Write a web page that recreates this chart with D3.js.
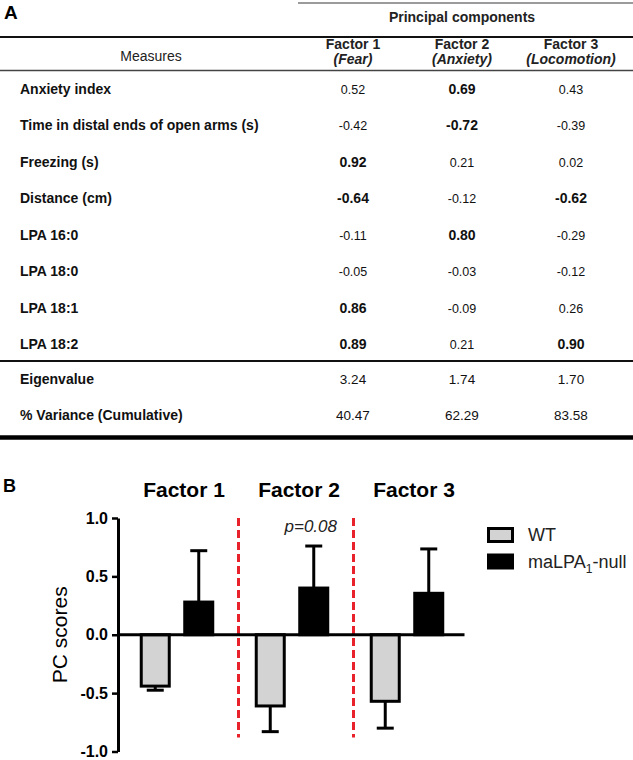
<!DOCTYPE html>
<html><head><meta charset="utf-8">
<script src="https://cdn.jsdelivr.net/npm/d3@7"></script>
<style>body{margin:0;background:#fff}svg{display:block;font-family:"Liberation Sans",Arial,sans-serif}</style>
</head><body><svg id="c" width="633" height="760"></svg>
<script>
// ---------- Panel A data ----------
const measures = ["Anxiety index","Time in distal ends of open arms (s)","Freezing (s)","Distance (cm)","LPA 16:0","LPA 18:0","LPA 18:1","LPA 18:2"];
const componentNames = ["Factor 1","Factor 2","Factor 3"];
const componentLabels = ["(Fear)","(Anxiety)","(Locomotion)"];
const loadingsF1 = [0.52,-0.42,0.92,-0.64,-0.11,-0.05,0.86,0.89];
const loadingsF2 = [0.69,-0.72,0.21,-0.12,0.80,-0.03,-0.09,0.21];
const loadingsF3 = [0.43,-0.39,0.02,-0.62,-0.29,-0.12,0.26,0.90];
const eigenvalues = ["3.24","1.74","1.70"];
const cumVariance = ["40.47","62.29","83.58"];
const summaryRows = ["Eigenvalue","% Variance (Cumulative)"];

// ---------- Panel B data ----------
const factors = ["Factor 1","Factor 2","Factor 3"];
const groups = ["WT","maLPA1-null"];
const wtMean = [-0.44,-0.61,-0.57];
const wtSem = [0.035,0.22,0.23];
const koMean = [0.28,0.40,0.355];
const koSem = [0.44,0.36,0.38];
const yTicks = [-1,-0.5,0,0.5,1];
const pLabel = "p=0.08";

const svg = d3.select("#c");
const F = "bold";

// ===== Panel A =====
svg.append("text").attr("x",4).attr("y",19).attr("font-size",19).attr("font-weight",F).text("A");
function hline(x1,x2,y,w,c){svg.append("line").attr("x1",x1).attr("x2",x2).attr("y1",y).attr("y2",y).attr("stroke",c).attr("stroke-width",w);}
hline(298,633,3,1.5,"#7a7a7a");
svg.append("text").attr("x",462).attr("y",22).attr("text-anchor","middle").attr("font-size",14).attr("font-weight",F).attr("fill","#222").text("Principal components");
hline(0,633,37,2,"#111");

const colX = d3.scalePoint().domain(componentNames).range([353,571]);
svg.append("text").attr("x",151).attr("y",61).attr("text-anchor","middle").attr("font-size",14).attr("fill","#222").text("Measures");
componentNames.forEach((c,i)=>{
  svg.append("text").attr("x",colX(c)).attr("y",49).attr("text-anchor","middle").attr("font-size",14).attr("font-weight",F).attr("fill","#222").text(c);
  svg.append("text").attr("x",colX(c)).attr("y",64).attr("text-anchor","middle").attr("font-size",14).attr("font-weight",F).attr("font-style","italic").attr("fill","#222").text(componentLabels[i]);
});
hline(0,633,70.5,1.5,"#444");

const rowY = d3.scalePoint().domain(measures).range([89,344]);
const loadCols = [loadingsF1,loadingsF2,loadingsF3];
measures.forEach((m,r)=>{
  svg.append("text").attr("x",20).attr("y",rowY(m)+5).attr("font-size",14).attr("font-weight",F).attr("fill","#111").text(m);
  loadCols.forEach((col,ci)=>{
    const v=col[r], strong=Math.abs(v)>=0.6;
    svg.append("text").attr("x",colX(componentNames[ci])).attr("y",rowY(m)+5)
      .attr("text-anchor","middle").attr("font-size",strong?14:12.5).attr("font-weight",strong?F:"normal").attr("fill","#111")
      .text(v.toFixed(2));
  });
});
hline(0,633,361,2,"#111");
const sumY = d3.scalePoint().domain(summaryRows).range([379,415]);
[eigenvalues,cumVariance].forEach((vals,ri)=>{
  const yy=sumY(summaryRows[ri])+5;
  svg.append("text").attr("x",20).attr("y",yy).attr("font-size",14).attr("font-weight",F).attr("fill","#111").text(summaryRows[ri]);
  vals.forEach((v,ci)=>svg.append("text").attr("x",colX(componentNames[ci])).attr("y",yy).attr("text-anchor","middle").attr("font-size",13.5).attr("fill","#111").text(v));
});
hline(0,633,437.5,4.5,"#000");

// ===== Panel B =====
svg.append("text").attr("x",3).attr("y",492).attr("font-size",18).attr("font-weight",F).text("B");
const y = d3.scaleLinear().domain([-1,1]).range([751.5,518]);
const x0 = d3.scaleBand().domain(factors).range([119.5,464.5]);
const x1 = d3.scaleBand().domain(groups).range([0,x0.bandwidth()]).paddingInner(0.356).paddingOuter(0.5);

factors.forEach(f=>{
  svg.append("text").attr("x",x0(f)+x0.bandwidth()/2+7).attr("y",497).attr("text-anchor","middle")
    .attr("font-size",21).attr("font-weight",F).text(f);
});

// red dashed separators between factors
factors.slice(1).forEach(f=>{
  const xs = x0(f)+4;
  svg.append("line").attr("x1",xs).attr("x2",xs).attr("y1",y(1)).attr("y2",y(-0.88))
    .attr("stroke","#e8212b").attr("stroke-width",3).attr("stroke-dasharray","8,4");
});

const bars = [];
factors.forEach((f,i)=>{
  bars.push({f,g:groups[0],v:wtMean[i],e:wtSem[i],fill:"#d3d3d3"});
  bars.push({f,g:groups[1],v:koMean[i],e:koSem[i],fill:"#000"});
});
const bw = x1.bandwidth();
bars.forEach(b=>{
  const bx = x0(b.f)+x1(b.g);
  const cx = bx+bw/2;
  const tip = b.v<0 ? b.v-b.e : b.v+b.e;
  svg.append("line").attr("x1",cx).attr("x2",cx).attr("y1",y(b.v)).attr("y2",y(tip)).attr("stroke","#000").attr("stroke-width",3);
  svg.append("line").attr("x1",cx-8.5).attr("x2",cx+8.5).attr("y1",y(tip)).attr("y2",y(tip)).attr("stroke","#000").attr("stroke-width",3);
  svg.append("rect").attr("x",bx).attr("width",bw).attr("y",y(Math.max(b.v,0))).attr("height",Math.abs(y(b.v)-y(0)))
    .attr("fill",b.fill).attr("stroke","#000").attr("stroke-width",3);
});
// zero line
svg.append("line").attr("x1",118).attr("x2",x0.range()[1]).attr("y1",y(0)).attr("y2",y(0)).attr("stroke","#000").attr("stroke-width",3);

// y axis
const ax = svg.append("g").attr("transform","translate(118,0)")
  .call(d3.axisLeft(y).tickValues(yTicks).tickFormat(d=>d.toFixed(1)).tickSize(6).tickSizeOuter(0).tickPadding(4));
ax.select(".domain").attr("stroke","#000").attr("stroke-width",3);
ax.selectAll(".tick line").attr("stroke","#000").attr("stroke-width",2.5);
ax.selectAll(".tick text").attr("font-size",16).attr("font-weight",F).attr("fill","#000").attr("font-family","Liberation Sans, Arial, sans-serif");

svg.append("text").attr("transform",`translate(67,${y(0)}) rotate(-90)`).attr("text-anchor","middle").attr("font-size",21).text("PC scores");

// p label
svg.append("text").attr("x",x0("Factor 2")+x1(groups[1])+bw/2-3).attr("y",532).attr("text-anchor","middle")
  .attr("font-size",17).attr("font-style","italic").attr("fill","#222").text(pLabel);

// legend
const leg = svg.append("g");
const legFill = ["#d3d3d3","#000"];
groups.forEach((g,i)=>{
  const ly = 528.5 + i*26.5;
  leg.append("rect").attr("x",488.5).attr("y",ly).attr("width",24).attr("height",13).attr("fill",legFill[i]).attr("stroke","#000").attr("stroke-width",3);
  const t = leg.append("text").attr("x",528).attr("y",ly+12.5).attr("font-size",18).attr("fill","#222");
  if(i===0){ t.text(g); }
  else { t.append("tspan").text("maLPA"); t.append("tspan").attr("font-size",12).attr("dy",5).text("1"); t.append("tspan").attr("dy",-5).text("-null"); }
});
</script></body></html>
